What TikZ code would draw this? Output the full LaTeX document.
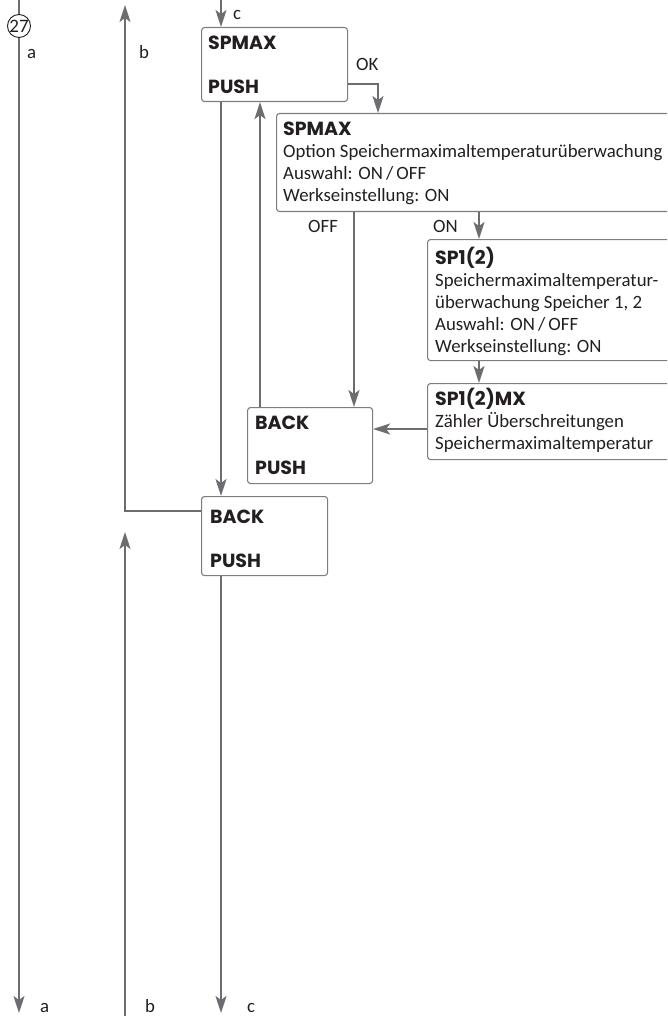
\documentclass[tikz,border=0pt]{standalone}
\usepackage{fontspec}
\setmainfont{Carlito}
\newfontfamily\hdfont{Poppins}
\newcommand{\hd}[1]{{\hdfont\bfseries\fontsize{19}{22}\selectfont #1}}
\usetikzlibrary{arrows.meta,calc}
\definecolor{ln}{RGB}{108,109,113}
\definecolor{bx}{RGB}{125,125,128}
\definecolor{tx}{RGB}{35,31,32}
\begin{document}
\begin{tikzpicture}[x=1pt,y=-1pt,
  conn/.style={draw=ln,line width=1.8pt,-{Stealth[length=17pt,width=11pt,inset=4pt]}},
  plainline/.style={draw=ln,line width=1.8pt},
  box/.style={draw=bx,line width=1.1pt,rounded corners=3pt,rectangle,anchor=north west,inner sep=0pt},
  txt/.style={anchor=north west,inner sep=0pt,align=left,text=tx,font=\fontsize{18.8}{22}\selectfont},
  lbl/.style={anchor=base west,inner sep=0pt,text=tx,font=\fontsize{18.8}{22}\selectfont}]
\clip (0,0) rectangle (667,1016);
% boxes
\node[box,minimum width=146pt,minimum height=74pt] (b1) at (201,27) {};
\node[box,minimum width=420pt,minimum height=98pt] (b2) at (276,113) {};
\node[box,minimum width=300pt,minimum height=121pt] (b3) at (427,239) {};
\node[box,minimum width=300pt,minimum height=76pt] (b4) at (427,383) {};
\node[box,minimum width=125pt,minimum height=76pt] (b5) at (247,407) {};
\node[box,minimum width=126pt,minimum height=79pt] (b6) at (201,496) {};
% texts
\node[txt] (t1) at (208,33) {\rule{0pt}{16pt}\hd{SPMAX}\\[22pt]\hd{PUSH}};
\node[txt] (t2) at (283,119) {\rule{0pt}{16pt}\hd{SPMAX}\\Option Speichermaximaltemperaturüberwachung\\Auswahl: ON\,/\,OFF\\Werkseinstellung: ON};
\node[txt] (t3) at (435,247) {\rule{0pt}{16pt}\hd{SP1(2)}\\Speichermaximaltemperatur-\\überwachung Speicher 1, 2\\Auswahl: ON\,/\,OFF\\Werkseinstellung: ON};
\node[txt] (t4) at (435,388) {\rule{0pt}{16pt}\hd{SP1(2)MX}\\Zähler Überschreitungen\\Speichermaximaltemperatur};
\node[txt] (t5) at (255,413) {\rule{0pt}{16pt}\hd{BACK}\\[23pt]\hd{PUSH}};
\node[txt] (t6) at (210,507) {\rule{0pt}{16pt}\hd{BACK}\\[22pt]\hd{PUSH}};
% circle
\node[circle,draw=tx,line width=0.9pt,minimum size=23pt,inner sep=0pt,text=tx,font=\fontsize{19}{20}\selectfont] (n27) at (19,26) {27};
% coordinates
\coordinate (atop) at (19,0);
\coordinate (abot) at (19,1013);
\coordinate (btop) at (125,5);
\coordinate (bbot) at (125,1016);
\coordinate (bup) at (125,532);
\coordinate (bj) at (201,511);
\coordinate (ctop) at (221,0);
\coordinate (cbot) at (221,1013);
\coordinate (okc) at (378,84);
\coordinate (retx) at (260,0);
\coordinate (offx) at (354,0);
\coordinate (onx) at (479,0);
\coordinate (sidey) at (0,429);
% connectors
\draw[plainline] (atop) -- (n27);
\draw[conn] (n27) -- (abot);
\draw[conn] (bj) -| (btop);
\draw[conn] (bbot) -- (bup);
\draw[conn] (ctop) -- (ctop |- b1.north);
\draw[conn] (ctop |- b1.south) -- (ctop |- b6.north);
\draw[conn] (ctop |- b6.south) -- (cbot);
\draw[conn] (retx |- b5.north) -- (retx |- b1.south);
\draw[conn] (b1.east |- okc) -| (okc |- b2.north);
\draw[conn] (offx |- b2.south) -- (offx |- b5.north);
\draw[conn] (onx |- b2.south) -- (onx |- b3.north);
\draw[conn] (onx |- b3.south) -- (onx |- b4.north);
\draw[conn] (b4.west |- sidey) -- (b5.east |- sidey);
% labels
\node[lbl] (la1) at (27,59) {a};
\node[lbl] (lb1) at (139,59) {b};
\node[lbl] (lc1) at (233,20) {c};
\node[lbl] (la2) at (40,1012) {a};
\node[lbl] (lb2) at (145,1012) {b};
\node[lbl] (lc2) at (247,1012) {c};
\node[lbl] (lok) at (356,71) {OK};
\node[lbl] (loff) at (308,233) {OFF};
\node[lbl] (lon) at (433,233) {ON};
\end{tikzpicture}
\end{document}
